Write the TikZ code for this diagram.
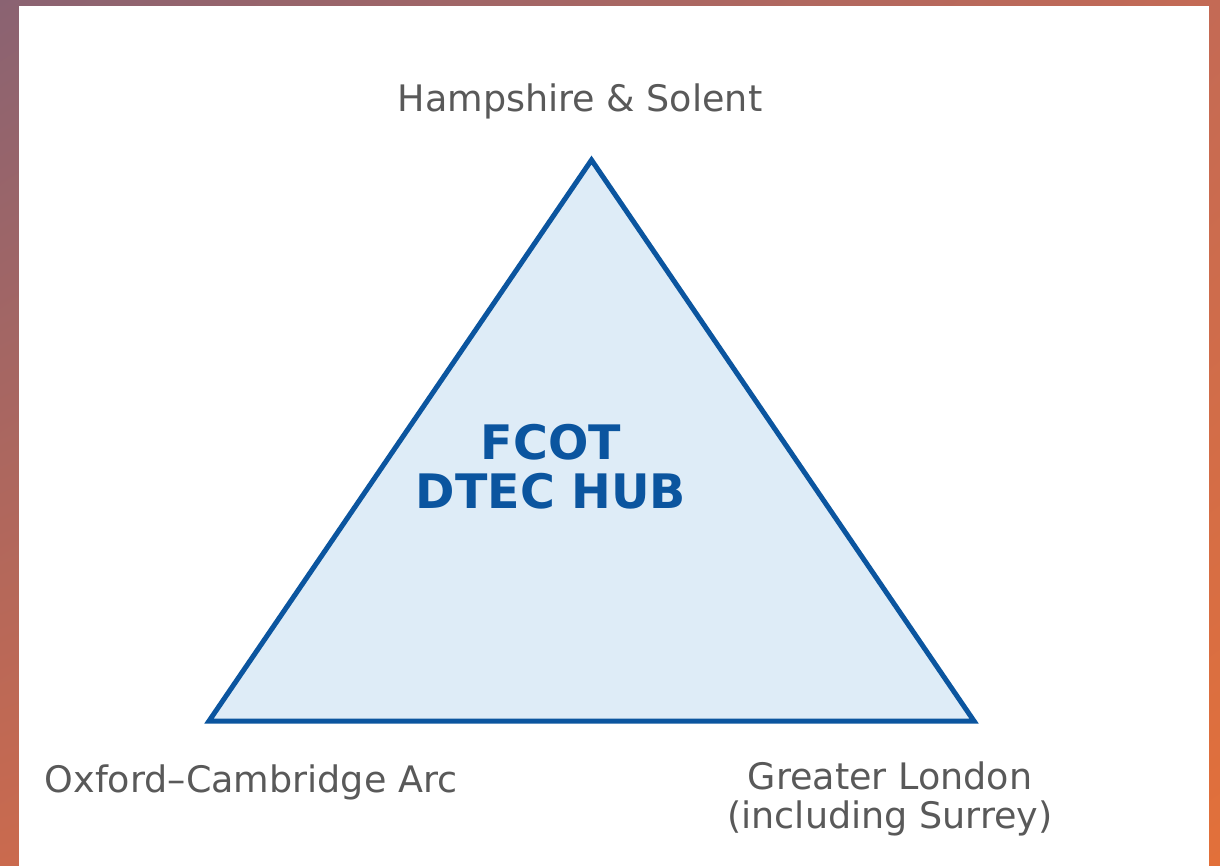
\documentclass[tikz,border=0pt]{standalone}
\usepackage{fontspec}
\setmainfont{DejaVu Sans}
\usetikzlibrary{calc}
\usetikzlibrary{positioning}
\usetikzlibrary{shadings}

\definecolor{FrameMauve}{HTML}{8A6372}
\definecolor{FrameRose}{HTML}{C46A55}
\definecolor{FrameRust}{HTML}{CA6A4E}
\definecolor{FrameOrange}{HTML}{E2703A}
\definecolor{HubBlue}{HTML}{0B559F}
\definecolor{HubFill}{HTML}{DEECF7}
\definecolor{LabelGrey}{HTML}{595959}

\tikzset{
  region/.style={text=LabelGrey, inner sep=0pt, align=center,
    font=\fontsize{36.5}{39}\selectfont},
  hub/.style={text=HubBlue, inner sep=0pt, align=center,
    font=\fontsize{47.5}{49}\selectfont\bfseries},
}

\begin{document}
\begin{tikzpicture}[x=1pt, y=-1pt]
  \useasboundingbox (0,0) rectangle (1220,865);

  % frame and white panel
  \shade[upper left=FrameMauve, upper right=FrameRose,
    lower left=FrameRust, lower right=FrameOrange] (0,0) rectangle (1220,865);
  \fill[white] (19,6) rectangle (1209,870);

  \coordinate (Apex)  at (591.5,160);
  \coordinate (Left)  at (209,721);
  \coordinate (Right) at (974,721);

  \draw[HubBlue, line width=5pt, fill=HubFill] (Apex) -- (Left) -- (Right) -- cycle;

  \node[hub] (Hub) at (551,467) {FCOT\\DTEC HUB};

  \node[region, anchor=base] (Hampshire) at (580,111) {Hampshire \& Solent};
  \node[region, anchor=base] (OxCam) at (251,792) {Oxford–Cambridge Arc};
  \node[region, anchor=north] (London) at (890,762) {Greater London\\(including Surrey)};
\end{tikzpicture}
\end{document}
